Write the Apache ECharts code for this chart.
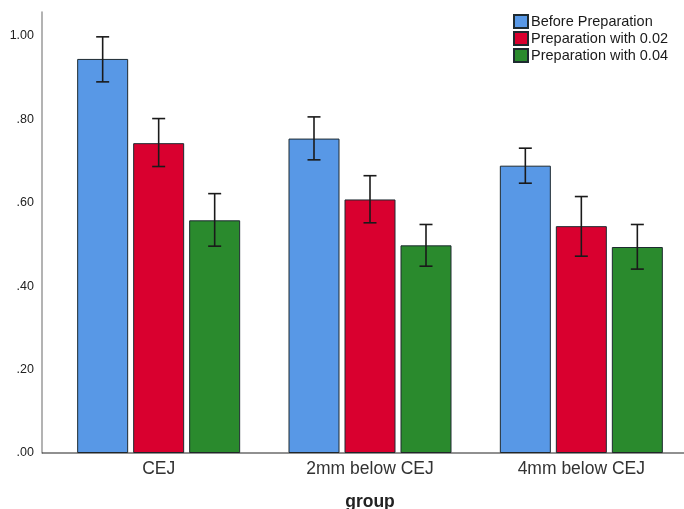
<!DOCTYPE html>
<html>
<head>
<meta charset="utf-8">
<script src="https://cdn.jsdelivr.net/npm/echarts@6/dist/echarts.min.js"></script>
<style>
html,body{margin:0;padding:0;background:#fff;overflow:hidden;}
#chart{position:absolute;left:0;top:0;width:684px;height:509px;}
</style>
</head>
<body>
<div id="chart"></div>
<script>
const categories = ['CEJ', '2mm below CEJ', '4mm below CEJ'];
const seriesNames = ['Before Preparation', 'Preparation with 0.02', 'Preparation with 0.04'];
const beforeMean = [0.945, 0.754, 0.689];
const beforeLow  = [0.890, 0.703, 0.647];
const beforeHigh = [0.998, 0.806, 0.731];
const prep002Mean = [0.743, 0.608, 0.544];
const prep002Low  = [0.687, 0.552, 0.472];
const prep002High = [0.802, 0.665, 0.615];
const prep004Mean = [0.558, 0.498, 0.494];
const prep004Low  = [0.496, 0.448, 0.441];
const prep004High = [0.622, 0.548, 0.548];
const yTicks = [0, 0.2, 0.4, 0.6, 0.8, 1.0];
const colors = ['#5898E6', '#D9002F', '#2A8A2D'];

const means = [beforeMean, prep002Mean, prep004Mean];
const lows = [beforeLow, prep002Low, prep004Low];
const highs = [beforeHigh, prep002High, prep004High];

const BAR_W = 51;
const GAP = 5;

function errorSeries(k) {
  const off = (k - 1) * (BAR_W + GAP);
  return {
    type: 'custom',
    name: seriesNames[k] + ' err',
    z: 5,
    silent: true,
    data: categories.map((c, i) => [i, lows[k][i], highs[k][i]]),
    renderItem: function (params, api) {
      const lo = api.coord([api.value(0), api.value(1)]);
      const hi = api.coord([api.value(0), api.value(2)]);
      const x = lo[0] + off;
      const cap = 6.5;
      const st = { stroke: '#1a1a1a', lineWidth: 1.6 };
      return {
        type: 'group',
        children: [
          { type: 'line', shape: { x1: x, y1: lo[1], x2: x, y2: hi[1] }, style: st },
          { type: 'line', shape: { x1: x - cap, y1: lo[1], x2: x + cap, y2: lo[1] }, style: st },
          { type: 'line', shape: { x1: x - cap, y1: hi[1], x2: x + cap, y2: hi[1] }, style: st }
        ]
      };
    }
  };
}

const chart = echarts.init(document.getElementById('chart'), null, { renderer: 'canvas', width: 684, height: 509 });
const gridTop = 12, gridHeight = 441, gridLeft = 53;
const option = {
  animation: false,
  backgroundColor: '#ffffff',
  textStyle: { fontFamily: 'Liberation Sans, Arial, sans-serif' },
  grid: { left: gridLeft, width: 634, top: gridTop, height: gridHeight, containLabel: false, outerBoundsMode: 'none' },
  legend: {
    orient: 'vertical',
    left: 513,
    top: 14,
    padding: 0,
    itemWidth: 14,
    itemHeight: 13,
    itemGap: 2,
    icon: 'rect',
    data: seriesNames,
    textStyle: { fontSize: 14.5, lineHeight: 13, color: '#1a1a1a', padding: [0, 0, 0, -2] }
  },
  xAxis: {
    type: 'category',
    data: categories,
    axisLine: { show: false },
    axisTick: { show: false },
    axisLabel: { fontSize: 17.5, color: '#333', margin: 7 },
    name: 'group',
    nameLocation: 'middle',
    nameGap: 40,
    nameTextStyle: { fontSize: 17.5, fontWeight: 'bold', color: '#222' }
  },
  yAxis: {
    type: 'value',
    min: 0,
    max: 441 / 417,
    interval: 0.2,
    offset: 11,
    axisLine: { show: true, lineStyle: { color: '#9a9a9a', width: 1.5 } },
    axisTick: { show: false },
    splitLine: { show: false },
    axisLabel: {
      fontSize: 12.5,
      color: '#222',
      margin: 8,
      showMaxLabel: false,
      formatter: function (v) {
        const ok = yTicks.some(t => Math.abs(t - v) < 1e-6);
        if (!ok) return '';
        let s = v.toFixed(2);
        if (s.startsWith('0')) s = s.slice(1);
        return s;
      }
    }
  },
  graphic: [{
    type: 'line',
    shape: { x1: 42, y1: gridTop + gridHeight, x2: 684, y2: gridTop + gridHeight },
    style: { stroke: '#222', lineWidth: 1.2 },
    z: 10
  }],
  series: [
    ...seriesNames.map((n, k) => ({
      type: 'bar',
      name: n,
      data: means[k],
      barWidth: BAR_W,
      barGap: (GAP / BAR_W * 100) + '%',
      itemStyle: { color: colors[k], borderColor: '#1e2a30', borderWidth: 1 }
    })),
    errorSeries(0), errorSeries(1), errorSeries(2)
  ]
};
chart.setOption(option);
</script>
</body>
</html>
